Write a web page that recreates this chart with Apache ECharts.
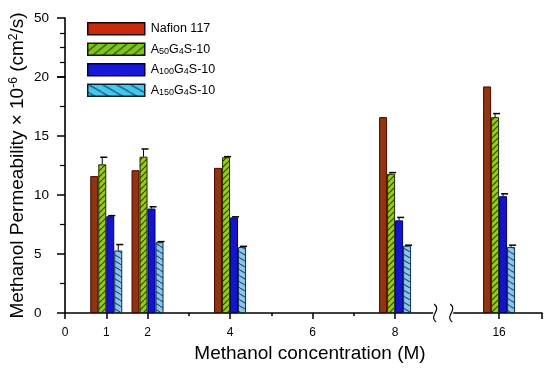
<!DOCTYPE html>
<html><head><meta charset="utf-8">
<script src="https://cdn.jsdelivr.net/npm/echarts@6/dist/echarts.min.js"></script>
<style>html,body{margin:0;padding:0;background:#fff}#c{width:550px;height:368px}</style>
</head><body><div id="c"></div>
<script>
// ---- data ----
const concentrations = [1, 2, 4, 8, 16];
// position of each concentration on the (broken) x axis: 16 sits right of the break
const axisPosOf = {1: 1, 2: 2, 4: 4, 8: 8, 16: 10.52};
const seriesNames = ['Nafion 117', 'A50G4S-10', 'A100G4S-10', 'A150G4S-10'];
const nafion = [11.6, 12.1, 12.3, 16.6, 19.2];
const a50    = [12.6, 13.25, 13.2, 11.8, 16.6];
const a100   = [8.2, 8.85, 8.1, 7.85, 9.9];
const a150   = [5.3, 6.0, 5.6, 5.7, 5.6];
const errNafion = [0, 0, 0, 0, 0];
const errA50    = [0.6, 0.65, 0.05, 0.1, 0.3];
const errA100   = [0.05, 0.15, 0.05, 0.25, 0.2];
const errA150   = [0.5, 0.05, 0.05, 0.05, 0.15];
const xTickLabels = ['0', '1', '2', '4', '6', '8', '16'];
const xTickValues = [0, 1, 2, 4, 6, 8, 16];
const xMinorTickValues = [3, 5, 7];
const yLowerTicks = [0, 5, 10, 15, 20];
const yUpperTicks = [20, 50];
const xBreak = [8.97, 9.36];

// ---- styling helpers ----
const FONT = 'Arial, "Liberation Sans", sans-serif';
const BW = 8;
const xPos = concentrations.map(c => axisPosOf[c]);
const xTickPos = xTickValues.map(v => axisPosOf[v] !== undefined ? axisPosOf[v] : v);
const X_MAX = 11.56;

function hatch(bg, line, w, h, dir, lw) {
  const cv = document.createElement('canvas');
  cv.width = w; cv.height = h;
  const g = cv.getContext('2d');
  g.fillStyle = bg; g.fillRect(0, 0, w, h);
  g.strokeStyle = line; g.lineWidth = lw;
  for (const dx of [-w, 0, w]) {
    g.beginPath();
    if (dir === '/') { g.moveTo(dx, h); g.lineTo(dx + w, 0); }
    else { g.moveTo(dx, 0); g.lineTo(dx + w, h); }
    g.stroke();
  }
  return {image: cv, repeat: 'repeat'};
}
const greenPat = hatch('#94CC1C', '#2f3a08', 6, 6, '/', 1.1);
const cyanPat = hatch('#8CC4EE', '#2a5670', 10, 6, '\\', 1.1);
const greenLegPat = hatch('#7CC818', '#2f3a08', 10, 8, '/', 1.2);
const cyanLegPat = hatch('#44C8F0', '#1d4a60', 14, 8, '\\', 1.2);

const styles = [
  {color: '#8F3510', borderColor: '#4a0500', borderWidth: 1},
  {color: greenPat, borderColor: '#1e2a00', borderWidth: 1},
  {color: '#1414CC', borderColor: '#00006a', borderWidth: 1},
  {color: cyanPat, borderColor: '#103040', borderWidth: 1}
];
const legendStyles = [
  {color: '#C42A10', borderColor: '#200000', borderWidth: 1.5},
  {color: greenLegPat, borderColor: '#101800', borderWidth: 1.5},
  {color: '#1818D8', borderColor: '#000040', borderWidth: 1.5},
  {color: cyanLegPat, borderColor: '#0a2030', borderWidth: 1.5}
];
const values = [nafion, a50, a100, a150];
const errs = [errNafion, errA50, errA100, errA150];

const barSeries = seriesNames.map((n, i) => ({
  name: n, type: 'bar', xAxisIndex: 1, yAxisIndex: 1,
  barWidth: BW, barGap: '0%',
  itemStyle: styles[i],
  data: xPos.map((x, k) => [x, values[i][k]]),
  z: 2
}));

const errSeries = seriesNames.map((n, i) => ({
  type: 'custom', xAxisIndex: 1, yAxisIndex: 1, z: 5, silent: true,
  data: xPos.map((x, k) => [x, values[i][k], values[i][k] + errs[i][k], errs[i][k]]),
  renderItem(params, api) {
    if (!api.value(3)) return null;
    const off = (i - 1.5) * BW;
    const p0 = api.coord([api.value(0), api.value(1)]);
    const p1 = api.coord([api.value(0), api.value(2)]);
    const cx = p0[0] + off;
    return {type: 'group', children: [
      {type: 'line', shape: {x1: cx, y1: p0[1], x2: cx, y2: p1[1]}, style: {stroke: '#000', lineWidth: 1}},
      {type: 'line', shape: {x1: cx - 2, y1: p1[1], x2: cx + 5, y2: p1[1]}, style: {stroke: '#000', lineWidth: 1.5}}
    ]};
  }
}));

const breakSeries = {
  type: 'custom', xAxisIndex: 1, yAxisIndex: 1, z: 10, silent: true, clip: false,
  data: [[xBreak[0], xBreak[1]]],
  renderItem(params, api) {
    const a = api.coord([api.value(0), 0]);
    const b = api.coord([api.value(1), 0]);
    const sq = (x, y) => ({type: 'bezierCurve',
      shape: {x1: x - 1, y1: y - 9, x2: x + 1, y2: y + 9, cpx1: x + 7, cpy1: y - 3, cpx2: x - 7, cpy2: y + 3},
      style: {stroke: '#000', lineWidth: 1.2, fill: null}});
    return {type: 'group', children: [
      {type: 'rect', shape: {x: a[0] - 2, y: a[1] - 3, width: b[0] - a[0] + 4, height: 6}, style: {fill: '#fff'}},
      sq(a[0], a[1]), sq(b[0], b[1])
    ]};
  }
};

const legendNames = {
  'Nafion 117': 'Nafion 117',
  'A50G4S-10': 'A{sub|50}G{sub|4}S-10',
  'A100G4S-10': 'A{sub|100}G{sub|4}S-10',
  'A150G4S-10': 'A{sub|150}G{sub|4}S-10'
};

const axisCommon = {
  axisLine: {show: true, lineStyle: {color: '#000', width: 1.6}},
  splitLine: {show: false}
};

const option = {
  backgroundColor: '#fff',
  animation: false,
  textStyle: {fontFamily: FONT},
  grid: [
    {left: 65, right: 8, top: 18, height: 59},
    {left: 65, right: 8, top: 77, bottom: 55},
    {left: 65, right: 8, top: 18, bottom: 55}
  ],
  legend: {
    orient: 'vertical', left: 87, top: 22, itemWidth: 57, itemHeight: 12, itemGap: 7,
    padding: 0, icon: 'rect', selectedMode: false,
    data: seriesNames.map((n, i) => ({name: n, itemStyle: legendStyles[i]})),
    formatter: n => legendNames[n],
    textStyle: {fontSize: 12.5, color: '#000', fontFamily: FONT, padding: [0, 0, 0, 1],
      rich: {sub: {fontSize: 9, verticalAlign: 'bottom', fontFamily: FONT, padding: [4, 0, 0, 0]}}}
  },
  xAxis: [
    {gridIndex: 0, type: 'value', min: 0, max: X_MAX, show: false},
    Object.assign({}, axisCommon, {
      gridIndex: 1, type: 'value', min: 0, max: X_MAX, interval: 1, position: 'bottom',
      axisTick: {show: true, length: 6, customValues: xTickPos.concat([X_MAX]), lineStyle: {color: '#000', width: 1.5}},
      axisLabel: {show: true, customValues: xTickPos, margin: 14, fontSize: 12, color: '#000', fontFamily: FONT,
        formatter: v => { const k = xTickPos.findIndex(p => Math.abs(p - v) < 1e-6); return k >= 0 ? xTickLabels[k] : ''; }},
      name: 'Methanol concentration (M)', nameLocation: 'middle', nameGap: 31,
      nameTextStyle: {fontSize: 19, color: '#000', fontFamily: FONT, padding: [0, 0, 0, 13]}
    }),
    {gridIndex: 1, type: 'value', min: 0, max: X_MAX, position: 'bottom', offset: 0,
      axisLine: {show: false}, splitLine: {show: false}, axisLabel: {show: false},
      axisTick: {show: true, length: 3, customValues: xMinorTickValues, lineStyle: {color: '#000', width: 1.5}}},
    {gridIndex: 2, type: 'value', min: 0, max: 1, show: false}
  ],
  yAxis: [
    Object.assign({}, axisCommon, {
      gridIndex: 0, type: 'value', min: yUpperTicks[0], max: yUpperTicks[1], interval: yUpperTicks[1] - yUpperTicks[0],
      axisTick: {show: true, length: 8, lineStyle: {color: '#000', width: 1.5}},
      minorTick: {show: true, splitNumber: 4, length: 5, lineStyle: {color: '#000', width: 1.2}},
      axisLabel: {show: true, align: 'left', margin: 31, fontSize: 13.5, color: '#000', fontFamily: FONT,
        formatter: v => v === yUpperTicks[1] ? String(v) : ''}
    }),
    Object.assign({}, axisCommon, {
      gridIndex: 1, type: 'value', min: yLowerTicks[0], max: yLowerTicks[yLowerTicks.length - 1], interval: 5,
      axisTick: {show: true, length: 8, lineStyle: {color: '#000', width: 1.5}},
      minorTick: {show: true, splitNumber: 2, length: 5, lineStyle: {color: '#000', width: 1.2}},
      axisLabel: {show: true, align: 'left', margin: 31, fontSize: 13.5, color: '#000', fontFamily: FONT}
    }),
    {gridIndex: 2, type: 'value', min: 0, max: 1, axisLine: {show: false}, axisTick: {show: false},
      axisLabel: {show: false}, splitLine: {show: false},
      name: 'Methanol Permeability × 10{sup|-6} (cm{sup|2}/s)', nameLocation: 'middle', nameGap: 38, nameRotate: 90,
      nameTextStyle: {fontSize: 19, color: '#000', fontFamily: FONT,
        rich: {sup: {fontSize: 12, verticalAlign: 'top', fontFamily: FONT}}}}
  ],
  series: barSeries.concat(errSeries, [breakSeries])
};

const chart = echarts.init(document.getElementById('c'), null, {renderer: 'canvas'});
chart.setOption(option);
</script>
</body></html>
